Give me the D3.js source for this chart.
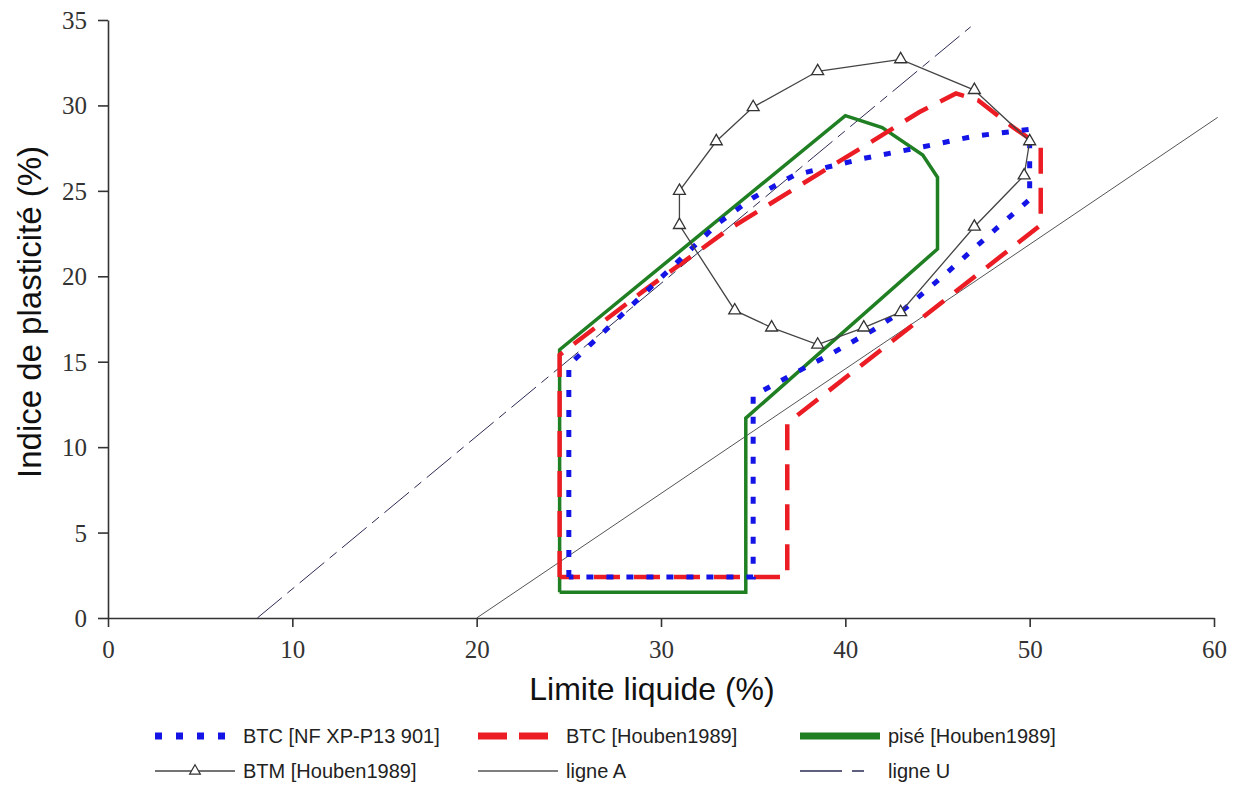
<!DOCTYPE html>
<html>
<head>
<meta charset="utf-8">
<script src="https://cdn.jsdelivr.net/npm/d3@7"></script>
<style>
    body { margin: 0; background: #fff; }
    svg { display: block; }
</style>
</head>
<body>
<div class="chart"></div>
<script>
// tick values
var xTicks = [0, 10, 20, 30, 40, 50, 60];
var yTicks = [0, 5, 10, 15, 20, 25, 30, 35];

// [limite liquide, indice de plasticite]
var btcNF = [[25, 2.4], [25, 14.8], [33.1, 23.1], [35, 24.6], [37.2, 25.9], [38.3, 26.2], [41, 26.9],
    [44.3, 27.6], [47, 28.2], [50, 28.6], [50, 24.5], [48.2, 22.8], [45.4, 20.1], [43, 17.9],
    [41.5, 16.85], [39.3, 15.5], [37.2, 14.3], [35, 13], [35, 2.4], [25, 2.4]];
var btcHouben = [[24.5, 2.4], [24.5, 15.4], [29, 19.1], [33.6, 22.7], [37.5, 25.3], [41, 27.6],
    [44, 29.6], [46, 30.7], [47.2, 30.3], [49, 28.8], [50.6, 27.6], [50.6, 23], [36.85, 11.4],
    [36.85, 2.4], [24.5, 2.4]];
var pise = [[24.5, 1.5], [24.5, 15.7], [40, 29.4], [42, 28.7], [44.2, 27.1], [45, 25.8], [45, 21.6],
    [34.6, 11.7], [34.6, 1.5], [24.5, 1.5]];
var btm = [[31, 25], [33, 27.9], [35, 29.9], [38.5, 32], [43, 32.7], [47, 30.9], [50, 27.9],
    [49.7, 25.9], [47, 22.9], [43, 17.9], [41, 17], [38.5, 16], [36, 17], [34, 18], [31, 23], [31, 25]];
var ligneA = [[20, 0], [60.2, 29.3]];
var ligneU = [[8.1, 0], [46.8, 34.6]];

var legendRows = [
    [{ key: "nf", label: "BTC  [NF XP-P13 901]" }, { key: "houben", label: "BTC  [Houben1989]" }, { key: "pise", label: "pisé  [Houben1989]" }],
    [{ key: "btm", label: "BTM  [Houben1989]" }, { key: "a", label: "ligne A" }, { key: "u", label: "ligne U" }]
];

var Chart = {
    width: 1235,
    height: 785,
    plotLeft: 108,
    plotRight: 1214,
    plotTop: 20,
    plotBottom: 618,
    styles: {
        nf: { color: "#1414e6", width: 5, dash: "7,13", legendWidth: 7, legendDash: "7,14" },
        houben: { color: "#ec1c24", width: 4.5, dash: "26,14", legendWidth: 7, legendDash: "29,12" },
        pise: { color: "#1f7f22", width: 3.5, dash: null, legendWidth: 7, legendDash: null },
        btm: { color: "#444", width: 1.3, dash: null, legendWidth: 1.3, legendDash: null },
        a: { color: "#555", width: 1, dash: null, legendWidth: 1.3, legendDash: null },
        u: { color: "#2b2b55", width: 1, dash: "32,7,9,7", legendWidth: 1.5, legendDash: "42,10,12,60" }
    },
    legendColumns: [155, 478, 800],
    legendSampleWidth: 80,
    legendRowY: [736, 771],
    svg: null,
    x: null,
    y: null,

    init: function () {
        this.svg = d3.select(".chart").append("svg")
            .attr("width", this.width)
            .attr("height", this.height);

        this.x = d3.scaleLinear().domain([0, 60]).range([this.plotLeft, this.plotRight]);
        this.y = d3.scaleLinear().domain([0, 35]).range([this.plotBottom, this.plotTop]);

        this.drawAxes();
        this.drawLine(ligneA, "a");
        this.drawLine(ligneU, "u");
        this.drawLine(pise, "pise");
        this.drawLine(btcHouben, "houben");
        this.drawLine(btcNF, "nf");
        this.drawLine(btm, "btm");
        this.drawMarkers(btm);
        this.drawLegend();
    },

    drawAxes: function () {
        var xAxis = d3.axisBottom(this.x).tickValues(xTicks).tickSize(9).tickSizeOuter(0);
        var yAxis = d3.axisLeft(this.y).tickValues(yTicks).tickSize(10).tickSizeOuter(0);

        var gx = this.svg.append("g")
            .attr("transform", "translate(0," + this.plotBottom + ")")
            .call(xAxis);
        var gy = this.svg.append("g")
            .attr("transform", "translate(" + this.plotLeft + ",0)")
            .call(yAxis);

        [gx, gy].forEach(function (g) {
            g.select(".domain").attr("stroke", "#333").attr("stroke-width", 1.6);
            g.selectAll(".tick line").attr("stroke", "#333").attr("stroke-width", 1.6);
            g.selectAll(".tick text")
                .attr("fill", "#333")
                .style("font-family", "'Liberation Serif', 'Times New Roman', serif")
                .style("font-size", "25px");
        });
        gx.selectAll(".tick text").attr("dy", "1.1em");
        gy.selectAll(".tick text").attr("x", -21).attr("dy", "0.34em");

        this.svg.append("text")
            .attr("x", 652)
            .attr("y", 700)
            .attr("text-anchor", "middle")
            .style("font-family", "'Liberation Sans', Arial, sans-serif")
            .style("font-size", "32px")
            .attr("fill", "#111")
            .text("Limite liquide (%)");

        this.svg.append("text")
            .attr("transform", "translate(41,312) rotate(-90)")
            .attr("text-anchor", "middle")
            .style("font-family", "'Liberation Sans', Arial, sans-serif")
            .style("font-size", "33px")
            .attr("fill", "#111")
            .text("Indice de plasticité (%)");
    },

    drawLine: function (data, key) {
        var s = this.styles[key];
        var line = d3.line()
            .x(function (d) { return Chart.x(d[0]); })
            .y(function (d) { return Chart.y(d[1]); });

        this.svg.append("path")
            .datum(data)
            .attr("d", line)
            .attr("fill", "none")
            .attr("stroke", s.color)
            .attr("stroke-width", s.width)
            .attr("stroke-dasharray", s.dash)
            .attr("stroke-linejoin", "miter");
    },

    drawMarkers: function (data) {
        // last point closes the ring, skip it
        this.svg.selectAll(".btm-marker")
            .data(data.slice(0, data.length - 1))
            .enter()
            .append("path")
            .attr("class", "btm-marker")
            .attr("d", d3.symbol().type(d3.symbolTriangle).size(62))
            .attr("transform", function (d) {
                return "translate(" + Chart.x(d[0]) + "," + Chart.y(d[1]) + ")";
            })
            .attr("fill", "#fff")
            .attr("stroke", "#333")
            .attr("stroke-width", 1.3);
    },

    drawLegend: function () {
        var self = this;
        legendRows.forEach(function (row, r) {
            var cy = self.legendRowY[r];
            row.forEach(function (item, c) {
                var s = self.styles[item.key];
                var x0 = self.legendColumns[c];
                var g = self.svg.append("g");

                g.append("line")
                    .attr("x1", x0)
                    .attr("x2", x0 + self.legendSampleWidth)
                    .attr("y1", cy)
                    .attr("y2", cy)
                    .attr("stroke", s.color)
                    .attr("stroke-width", s.legendWidth)
                    .attr("stroke-dasharray", s.legendDash);

                if (item.key == "btm") {
                    g.append("path")
                        .attr("d", d3.symbol().type(d3.symbolTriangle).size(50))
                        .attr("transform", "translate(" + (x0 + self.legendSampleWidth / 2) + "," + cy + ")")
                        .attr("fill", "#fff")
                        .attr("stroke", "#333")
                        .attr("stroke-width", 1.2);
                }

                g.append("text")
                    .attr("x", x0 + self.legendSampleWidth + 8)
                    .attr("y", cy + 7)
                    .style("font-family", "'Liberation Sans Narrow', 'Arial Narrow', 'Liberation Sans', sans-serif")
                    .style("font-size", "20px")
                    .attr("fill", "#222")
                    .text(item.label);
            });
        });
    }
};

Chart.init();
</script>
</body>
</html>
